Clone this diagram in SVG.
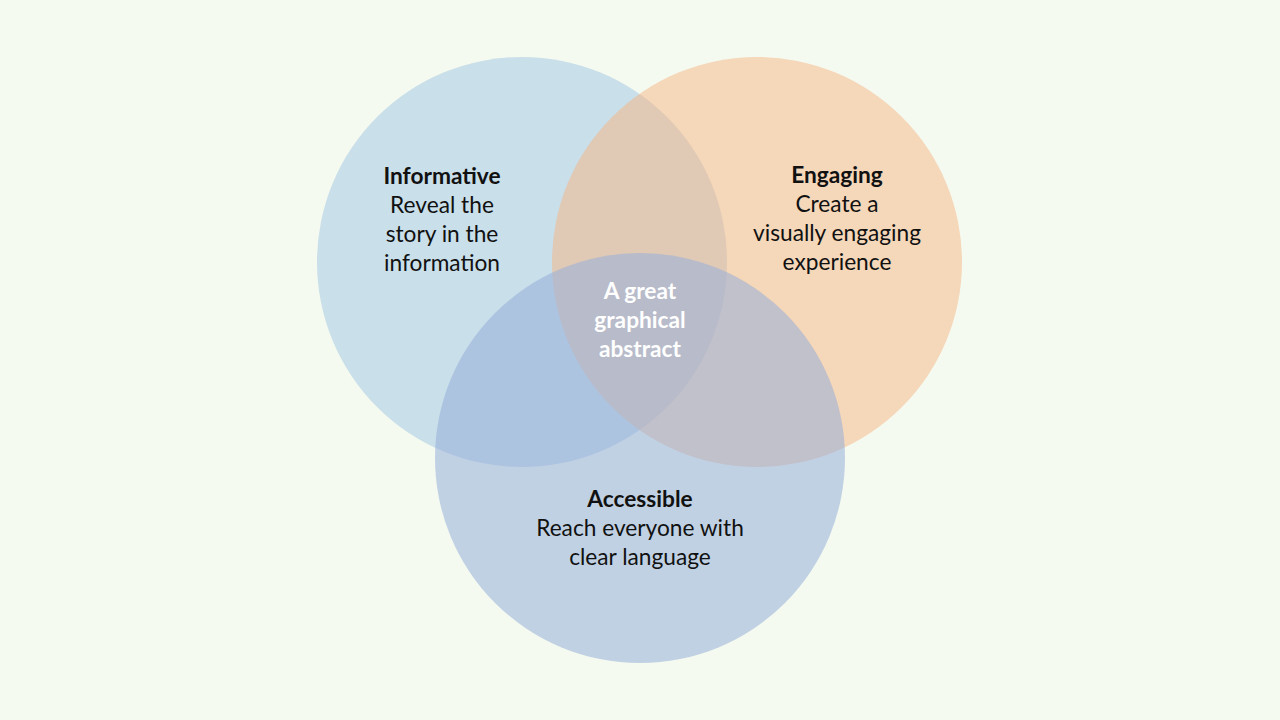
<svg xmlns="http://www.w3.org/2000/svg" width="1280" height="720" viewBox="0 0 1280 720">
<style>
.t{font-family:Lato,"Open Sans","Liberation Sans",sans-serif;font-size:22.7px;text-anchor:middle;fill:#111}
.b{font-weight:bold}
.w{fill:#ffffff;font-weight:bold}
</style>
<rect width="1280" height="720" fill="#F5FAF0"/>
<g id="informative"><circle cx="522" cy="262" r="205" fill="#9DC4E4" fill-opacity="0.5"/></g>
<g id="engaging"><circle cx="757" cy="262" r="205" fill="#F5B786" fill-opacity="0.52"/></g>
<g id="accessible"><circle cx="640" cy="458" r="205" fill="#95AEDA" fill-opacity="0.54"/></g>
<g id="connectors"></g>
<g id="informative-text">
<text class="t b" x="442" y="184">Informative</text>
<text class="t" x="442" y="213">Reveal the</text>
<text class="t" x="442" y="242">story in the</text>
<text class="t" x="442" y="271">information</text>
</g>
<g id="engaging-text">
<text class="t b" x="837" y="183">Engaging</text>
<text class="t" x="837" y="212">Create a</text>
<text class="t" x="837" y="241">visually engaging</text>
<text class="t" x="837" y="270">experience</text>
</g>
<g id="center">
<text class="t w" x="640" y="299">A great</text>
<text class="t w" x="640" y="328">graphical</text>
<text class="t w" x="640" y="357">abstract</text>
</g>
<g id="accessible-text">
<text class="t b" x="640" y="507">Accessible</text>
<text class="t" x="640" y="536">Reach everyone with</text>
<text class="t" x="640" y="565">clear language</text>
</g>
</svg>
